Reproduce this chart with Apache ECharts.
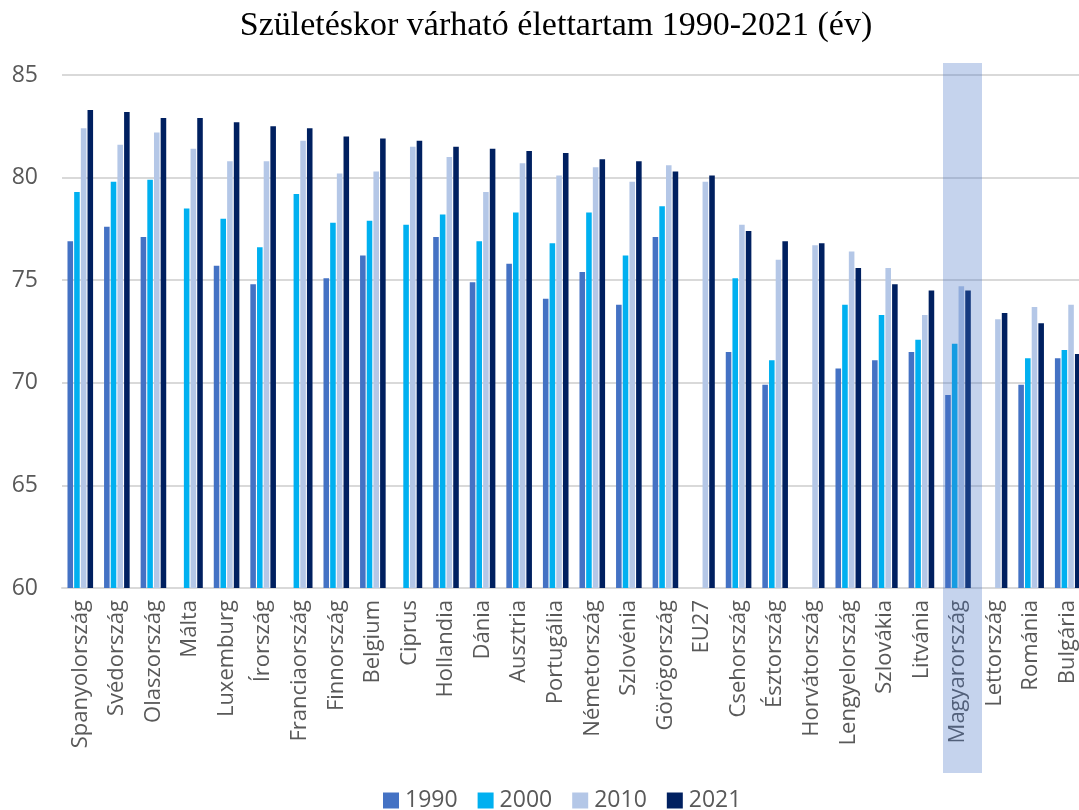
<!DOCTYPE html>
<html>
<head>
<meta charset="utf-8">
<script src="https://cdn.jsdelivr.net/npm/echarts@6/dist/echarts.min.js"></script>
<style>
  html, body { margin: 0; padding: 0; background: #fff; overflow: hidden; }
  #chart { width: 1086px; height: 810px; }
</style>
</head>
<body>
<div id="chart"></div>
<script>
// Life expectancy at birth in EU countries, 1990-2021 (years)
const categories = ['Spanyolország','Svédország','Olaszország','Málta','Luxemburg','Írország','Franciaország','Finnország','Belgium','Ciprus','Hollandia','Dánia','Ausztria','Portugália','Németország','Szlovénia','Görögország','EU27','Csehország','Észtország','Horvátország','Lengyelország','Szlovákia','Litvánia','Magyarország','Lettország','Románia','Bulgária'];

const y1990 = [76.9, 77.6, 77.1, null, 75.7, 74.8, null, 75.1, 76.2, null, 77.1, 74.9, 75.8, 74.1, 75.4, 73.8, 77.1, null, 71.5, 69.9, null, 70.7, 71.1, 71.5, 69.4, null, 69.9, 71.2];
const y2000 = [79.3, 79.8, 79.9, 78.5, 78.0, 76.6, 79.2, 77.8, 77.9, 77.7, 78.2, 76.9, 78.3, 76.8, 78.3, 76.2, 78.6, null, 75.1, 71.1, null, 73.8, 73.3, 72.1, 71.9, null, 71.2, 71.6];
const y2010 = [82.4, 81.6, 82.2, 81.4, 80.8, 80.8, 81.8, 80.2, 80.3, 81.5, 81.0, 79.3, 80.7, 80.1, 80.5, 79.8, 80.6, 79.8, 77.7, 76.0, 76.7, 76.4, 75.6, 73.3, 74.7, 73.1, 73.7, 73.8];
const y2021 = [83.3, 83.2, 82.9, 82.9, 82.7, 82.5, 82.4, 82.0, 81.9, 81.8, 81.5, 81.4, 81.3, 81.2, 80.9, 80.8, 80.3, 80.1, 77.4, 76.9, 76.8, 75.6, 74.8, 74.5, 74.5, 73.4, 72.9, 71.4];

const seriesNames = ['1990', '2000', '2010', '2021'];
const seriesColors = ['#4472C4', '#00B0F0', '#B4C7E7', '#002060'];
const seriesData = [y1990, y2000, y2010, y2021];

const yTicks = { min: 60, max: 85, interval: 5 };
const highlighted = 'Magyarország';

const chart = echarts.init(document.getElementById('chart'), null, { renderer: 'canvas' });

const labelFont = '"Open Sans", sans-serif';

chart.setOption({
  animation: false,
  backgroundColor: '#fff',
  title: {
    text: 'Születéskor várható élettartam 1990-2021 (év)',
    left: 556,
    top: 9,
    padding: 0,
    textAlign: 'center',
    textStyle: {
      fontFamily: '"Liberation Serif", "Times New Roman", serif',
      fontSize: 34,
      fontWeight: 'normal',
      color: '#000'
    }
  },
  legend: {
    data: seriesNames,
    left: 383,
    top: 789,
    padding: 0,
    icon: 'rect',
    itemWidth: 16,
    itemHeight: 16,
    itemGap: 20,
    textStyle: { fontFamily: labelFont, fontSize: 23, color: '#595959', padding: [0, 0, 0, 1] }
  },
  grid: { left: 62, right: 0, top: 75, bottom: 222, containLabel: false },
  xAxis: {
    type: 'category',
    data: categories,
    axisLine: { show: true, lineStyle: { color: '#d9d9d9', width: 2 } },
    axisTick: { show: false },
    axisLabel: {
      interval: 0,
      rotate: 90,
      margin: 12,
      fontFamily: labelFont,
      fontSize: 22,
      color: '#595959'
    }
  },
  yAxis: {
    type: 'value',
    min: yTicks.min,
    max: yTicks.max,
    interval: yTicks.interval,
    axisLine: { show: false },
    axisTick: { show: false },
    splitLine: { lineStyle: { color: '#d9d9d9', width: 2 } },
    axisLabel: { margin: 24, fontFamily: labelFont, fontSize: 23, color: '#595959' }
  },
  series: seriesNames.map((name, i) => ({
    name,
    type: 'bar',
    data: seriesData[i],
    barGap: '20%',
    barCategoryGap: '30%',
    itemStyle: { color: seriesColors[i] }
  }))
});

// Translucent band that highlights one country, from above the plot down through its label
function drawHighlight() {
  const cx = chart.convertToPixel({ xAxisIndex: 0 }, highlighted);
  const bandWidth = 39;
  chart.setOption({
    graphic: [{
      type: 'rect',
      z: 100,
      silent: true,
      shape: { x: Math.round(cx - 15), y: 63, width: bandWidth, height: 710 },
      style: { fill: 'rgba(68,114,196,0.31)' }
    }]
  });
}
drawHighlight();
</script>
</body>
</html>
